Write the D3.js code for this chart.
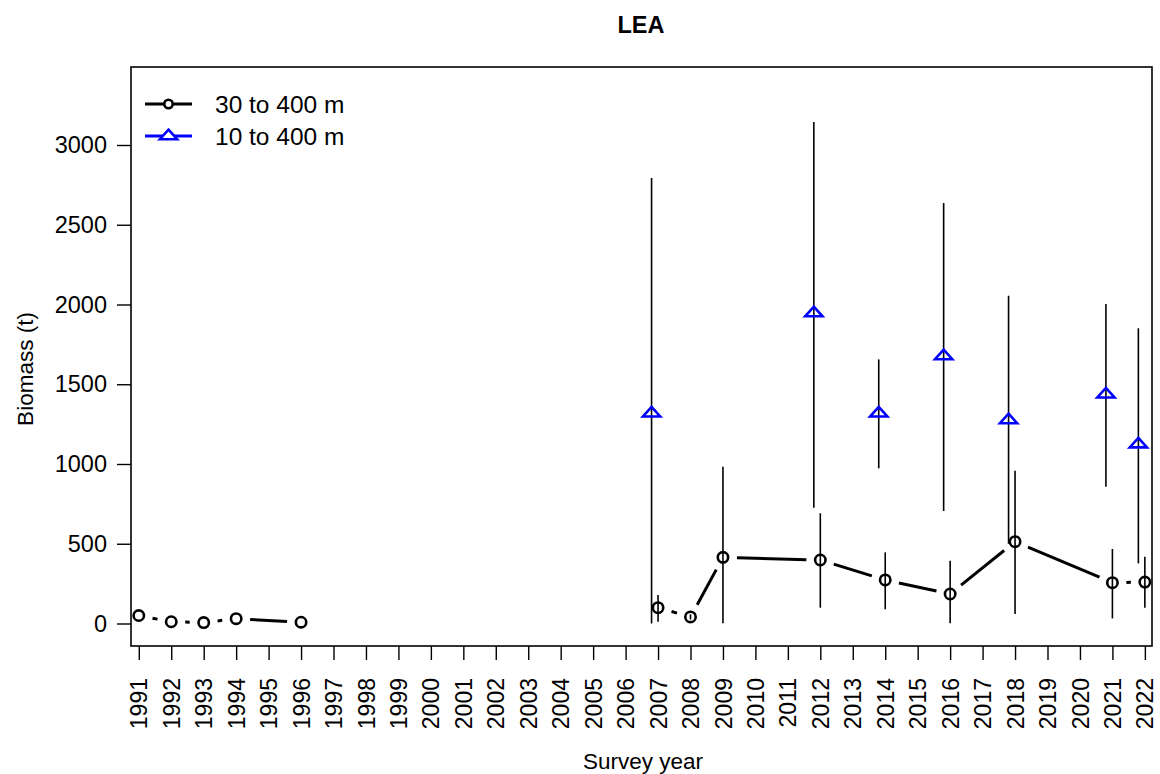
<!DOCTYPE html>
<html>
<head>
<meta charset="utf-8">
<script src="https://cdn.jsdelivr.net/npm/d3@7"></script>
<style>
  body { margin: 0; background: #fff; }
  text { font-family: "Liberation Sans", Arial, sans-serif; }
</style>
</head>
<body>
<div id="chart"></div>
<script>
// survey years on the axis
const years = d3.range(1991, 2023);

// 30 to 400 m series (black circles)
const deepYears = [1991, 1992, 1993, 1994, 1996, 2007, 2008, 2009, 2012, 2014, 2016, 2018, 2021, 2022];
const deepBiomass = [50, 11, 6, 30, 8, 99, 41, 415, 398, 273, 185, 513, 256, 260];
const deepLower = [null, null, null, null, null, 11, 25, 1, 99, 89, 1, 60, 32, 99];
const deepUpper = [null, null, null, null, null, 179, 58, 983, 691, 446, 394, 958, 467, 419];
// break in the line between the two survey eras
const deepGroup = [0, 0, 0, 0, 0, 1, 1, 1, 1, 1, 1, 1, 1, 1];

// 10 to 400 m series (blue triangles)
const shallowYears = [2007, 2012, 2014, 2016, 2018, 2021, 2022];
const shallowBiomass = [1318, 1946, 1318, 1677, 1276, 1437, 1124];
const shallowLower = [0, 725, 973, 705, 500, 858, 377];
const shallowUpper = [2793, 3144, 1656, 2637, 2055, 2003, 1851];

const yTicks = [0, 500, 1000, 1500, 2000, 2500, 3000];
const legendLabels = ["30 to 400 m", "10 to 400 m"];

const W = 1160, H = 774;
const box = { left: 131, right: 1152, top: 67, bottom: 646 };

const svg = d3.select("#chart").append("svg")
  .attr("width", W)
  .attr("height", H);

const x = d3.scaleLinear().domain([1990.76, 2022.22]).range([box.left, box.right]);
const y = d3.scaleLinear().domain([0, 3000]).range([623.5, 145]);

// plot frame
svg.append("rect")
  .attr("x", box.left).attr("y", box.top)
  .attr("width", box.right - box.left).attr("height", box.bottom - box.top)
  .attr("fill", "none").attr("stroke", "#000").attr("stroke-width", 1.6);

// y axis
const yAxis = svg.append("g")
  .attr("transform", `translate(${box.left},0)`)
  .call(d3.axisLeft(y).tickValues(yTicks).tickSize(14).tickPadding(10).tickFormat(d3.format("d")));
yAxis.select(".domain").remove();
yAxis.selectAll("line").attr("stroke-width", 1.4);
yAxis.selectAll("text").style("font-size", "23.5px").attr("fill", "#000");

// x axis
const xAxis = svg.append("g")
  .attr("transform", `translate(0,${box.bottom})`)
  .call(d3.axisBottom(x).tickValues(years).tickSize(14).tickFormat(d3.format("d")));
xAxis.select(".domain").remove();
xAxis.selectAll("line").attr("stroke-width", 1.4);
xAxis.selectAll("text")
  .style("font-size", "23px")
  .attr("fill", "#000")
  .attr("transform", "rotate(-90)")
  .attr("x", -32)
  .attr("y", 0)
  .attr("dy", "0.35em")
  .style("text-anchor", "end");

// titles
svg.append("text")
  .attr("x", 641).attr("y", 33)
  .attr("text-anchor", "middle")
  .style("font-size", "23.5px").style("font-weight", "bold")
  .text("LEA");

svg.append("text")
  .attr("x", 643).attr("y", 769)
  .attr("text-anchor", "middle")
  .style("font-size", "22.5px")
  .text("Survey year");

svg.append("text")
  .attr("transform", "translate(33,369) rotate(-90)")
  .attr("text-anchor", "middle")
  .style("font-size", "22.5px")
  .text("Biomass (t)");

const deep = deepYears.map((yr, i) => ({
  year: yr, value: deepBiomass[i], lo: deepLower[i], hi: deepUpper[i], group: deepGroup[i]
}));
const shallow = shallowYears.map((yr, i) => ({
  year: yr - 0.2, value: shallowBiomass[i], lo: shallowLower[i], hi: shallowUpper[i]
}));

// error bars
const plot = svg.append("g");
plot.selectAll(".err")
  .data(deep.filter(d => d.lo !== null).concat(shallow))
  .join("line")
  .attr("class", "err")
  .attr("x1", d => x(d.year)).attr("x2", d => x(d.year))
  .attr("y1", d => y(d.lo)).attr("y2", d => y(d.hi))
  .attr("stroke", "#000").attr("stroke-width", 1.6);

// type "b" line: segments shortened near each point
const gap = 14;
const segs = [];
for (let i = 1; i < deep.length; i++) {
  const a = deep[i - 1], b = deep[i];
  if (a.group !== b.group) continue;
  const x1 = x(a.year), y1 = y(a.value), x2 = x(b.year), y2 = y(b.value);
  const len = Math.hypot(x2 - x1, y2 - y1);
  if (len <= 2 * gap) continue;
  const ux = (x2 - x1) / len, uy = (y2 - y1) / len;
  segs.push([x1 + ux * gap, y1 + uy * gap, x2 - ux * gap, y2 - uy * gap]);
}
plot.selectAll(".seg")
  .data(segs)
  .join("line")
  .attr("class", "seg")
  .attr("x1", d => d[0]).attr("y1", d => d[1])
  .attr("x2", d => d[2]).attr("y2", d => d[3])
  .attr("stroke", "#000").attr("stroke-width", 3);

plot.selectAll(".pt")
  .data(deep)
  .join("circle")
  .attr("class", "pt")
  .attr("cx", d => x(d.year)).attr("cy", d => y(d.value))
  .attr("r", 5.2)
  .attr("fill", "none").attr("stroke", "#000").attr("stroke-width", 2.6);

function triangle(cx, cy, r) {
  const xc = 1.347 * r, yc = 0.5 * r;
  return `M${cx},${cy - r}L${cx + xc},${cy + yc}L${cx - xc},${cy + yc}Z`;
}

plot.selectAll(".tri")
  .data(shallow)
  .join("path")
  .attr("class", "tri")
  .attr("d", d => triangle(x(d.year), y(d.value), 6.4))
  .attr("fill", "none").attr("stroke", "#0000ff").attr("stroke-width", 2.6);

// legend
const legend = svg.append("g");
const legendY = [104, 136];
legend.append("line")
  .attr("x1", 145).attr("x2", 192).attr("y1", legendY[0]).attr("y2", legendY[0])
  .attr("stroke", "#000").attr("stroke-width", 3);
legend.append("circle")
  .attr("cx", 168.5).attr("cy", legendY[0]).attr("r", 4.2)
  .attr("fill", "#fff").attr("stroke", "#000").attr("stroke-width", 2.6);
legend.append("line")
  .attr("x1", 145).attr("x2", 192).attr("y1", legendY[1]).attr("y2", legendY[1])
  .attr("stroke", "#0000ff").attr("stroke-width", 3);
legend.append("path")
  .attr("d", triangle(168.5, legendY[1], 6.4))
  .attr("fill", "#fff").attr("stroke", "#0000ff").attr("stroke-width", 2.6);
legend.selectAll(".leg-text")
  .data(legendLabels)
  .join("text")
  .attr("class", "leg-text")
  .attr("x", 215)
  .attr("y", (d, i) => legendY[i])
  .attr("dy", "0.35em")
  .style("font-size", "24.5px")
  .text(d => d);
</script>
</body>
</html>
